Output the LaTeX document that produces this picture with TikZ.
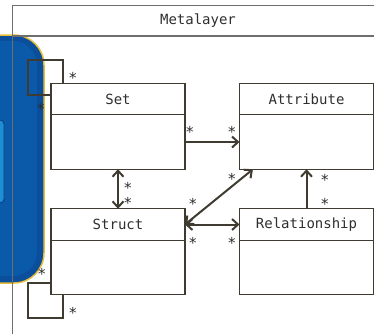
\documentclass[tikz,border=0pt]{standalone}
\usepackage{fontspec}
\setmonofont{DejaVu Sans Mono}
\usetikzlibrary{arrows.meta,calc,positioning}
\definecolor{ink}{HTML}{3F3B31}
\definecolor{framegray}{HTML}{6E6E6E}
\definecolor{txt}{HTML}{2E2E2E}
\definecolor{blueOuter}{HTML}{0A4E9C}
\definecolor{blueInner}{HTML}{0B5AAA}
\definecolor{blueLight}{HTML}{1E8ED4}
\definecolor{gold}{HTML}{E6BE3C}
\tikzset{
  classtitle/.style={draw=ink, line width=1.3pt, minimum width=134pt, minimum height=31.5pt,
    inner sep=0pt, outer sep=0pt, font=\ttfamily\fontsize{14}{15}\selectfont, text=txt},
  classbody/.style={draw=ink, line width=1.3pt, minimum width=134pt, minimum height=54.5pt,
    inner sep=0pt, outer sep=0pt},
  assoc/.style={draw=ink, line width=2pt},
  tip/.style={-{Straight Barb[length=6pt,width=11pt,line width=2pt]}},
  bitip/.style={{Straight Barb[length=6pt,width=11pt,line width=2pt]}-{Straight Barb[length=6pt,width=11pt,line width=2pt]}},
  mult/.style={anchor=base, inner sep=0pt, font=\ttfamily\fontsize{15}{16}\selectfont, text=txt},
}
\begin{document}
\begin{tikzpicture}[x=1pt,y=-1pt]
\useasboundingbox (0,0) rectangle (374,333);

% decorative blue panel at the left edge
\draw[rounded corners=30pt, fill=blueOuter, draw=gold, line width=1.5pt] (-40,35) rectangle (44,283);
\fill[rounded corners=24pt, blueInner] (-40,41) rectangle (37,276);
\draw[rounded corners=4pt, fill=blueLight, draw=blueOuter!80!black, line width=0.8pt] (-10,120) rectangle (4,203);

% package frame
\draw[framegray, line width=1pt] (12,340) -- (12,5) -- (390,5);
\draw[framegray, line width=1.2pt] (12,36) -- (390,36);
\node[font=\ttfamily\fontsize{14}{15}\selectfont, text=txt] (pkg) at (198,21) {Metalayer};

% classes
\node[classtitle] (setT) at (118,99) {Set};
\node[classbody, below=0pt of setT] (set) {};
\node[classtitle] (attrT) at (306.5,99) {Attribute};
\node[classbody, below=0pt of attrT] (attr) {};
\node[classtitle] (structT) at (118,224.5) {Struct};
\node[classbody, below=0pt of structT] (struct) {};
\node[classtitle] (relT) at (306.5,224.5) {Relationship};
\node[classbody, below=0pt of relT] (rel) {};

\coordinate (attrDiag) at ($(attr.south west)!0.1!(attr.south east)$);

% associations
\draw[assoc, tip] (set.east) -- (attr.west);
\draw[assoc, bitip] (set.south) -- (structT.north);
\draw[assoc, bitip] (structT.east) -- (attrDiag);
\draw[assoc, bitip] (structT.east) -- (relT.west);
\draw[assoc, tip] (relT.north) -- (attr.south);

% self associations
\draw[assoc] ($(setT.north west)+(12,0)$) -- ++(0,-23) -- ++(-35,0) -- ++(0,35) -- ++(23,0);
\draw[assoc] ($(struct.south west)+(0,-12)$) -- ++(-23,0) -- ++(0,35) -- ++(35,0) -- ++(0,-23);

% multiplicities
\node[mult] (m1) at (73,83) {*};
\node[mult] (m2) at (41,114) {*};
\node[mult] (m3) at (190,137) {*};
\node[mult] (m4) at (232,137) {*};
\node[mult] (m5) at (128,193) {*};
\node[mult] (m6) at (128,208) {*};
\node[mult] (m7) at (232,184) {*};
\node[mult] (m8) at (193,209) {*};
\node[mult] (m9) at (193,248) {*};
\node[mult] (m10) at (232,248) {*};
\node[mult] (m11) at (325,185) {*};
\node[mult] (m12) at (325,209) {*};
\node[mult] (m13) at (42,279) {*};
\node[mult] (m14) at (73,318) {*};
\end{tikzpicture}
\end{document}
